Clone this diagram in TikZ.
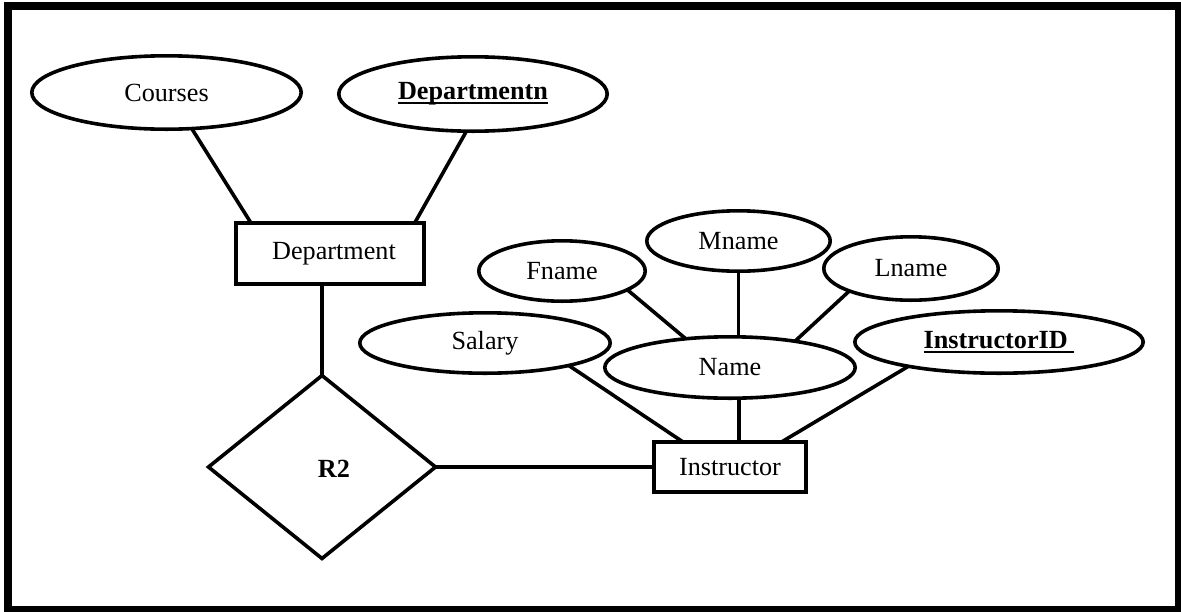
\documentclass[tikz,border=0pt]{standalone}
\usepackage{fontspec}
\setmainfont{Liberation Serif}
\usetikzlibrary{shapes.geometric,calc}

% key attribute: bold text with a heavy underline
\newcommand{\keyattr}[1]{\setbox0\hbox{\bfseries #1}\rlap{\rule[-0.17em]{\wd0}{0.08em}}\box0}

\begin{document}
\begin{tikzpicture}[x=1pt,y=-1pt,
  every node/.style={font=\fontsize{26.2}{30}\selectfont, inner sep=0pt, outer sep=0pt},
  attr/.style={draw, ellipse, line width=3.6pt},
  entity/.style={draw, rectangle, line width=3.6pt},
  rel/.style={draw, diamond, line width=3.6pt, minimum width=227pt, minimum height=183pt},
  link/.style={line width=3.6pt}]

\useasboundingbox (0,0) rectangle (1181,611);
\draw[line width=8pt] (8,6) rectangle (1179,610);

% department side
\node[attr, minimum width=269.4pt, minimum height=73.4pt] (courses) at (166.5,92.5) {Courses};
\node[attr, minimum width=268.4pt, minimum height=74.4pt] (deptn) at (473,94) {\keyattr{Departmentn}};
\node[entity, minimum width=188.4pt, minimum height=61.4pt] (dept) at (330,253.5) {\raisebox{3pt}{\hspace*{8pt}Department}};

% relationship
\node[rel, label={[xshift=12pt, yshift=-2pt, font=\fontsize{26.2}{30}\selectfont\bfseries]center:R2}] (r2) at (322,467) {};

% instructor side
\node[attr, minimum width=166.4pt, minimum height=60.4pt] (fname) at (562,271) {Fname};
\node[attr, minimum width=183.4pt, minimum height=60.4pt] (mname) at (738.5,241) {Mname};
\node[attr, minimum width=174.4pt, minimum height=63.4pt] (lname) at (911,268.5) {Lname};
\node[attr, minimum width=250.4pt, minimum height=60.4pt] (salary) at (485,343) {Salary};
\node[attr, minimum width=250.4pt, minimum height=61.4pt] (name) at (730,367.5) {Name};
\node[attr, minimum width=288.4pt, minimum height=62.4pt] (iid) at (999,342) {\keyattr{InstructorID\ }};
\node[entity, minimum width=152.4pt, minimum height=50.4pt] (inst) at (730,467) {Instructor};

% connectors
\draw[link] (courses.-55) -- ($(dept.north west)!0.08!(dept.north east)$);
\draw[link] (deptn.-100) -- ($(dept.north west)!0.95!(dept.north east)$);
\draw[link] (r2.north) -- (r2.north |- dept.south);
\draw[link] (r2.east) -- (inst.west);

\draw[link] (fname.-16.5) -- (name.147);
\draw[link] (mname.south) -- (mname.south |- name.north);
\draw[link] (lname.-160) -- (name.22.8);
\draw[link] (salary.-15.9) -- ($(inst.north west)!0.19!(inst.north east)$);
\draw[link] ([xshift=9pt]name.south) -- ([xshift=9pt]inst.north);
\draw[link] (iid.-165.8) -- ($(inst.north west)!0.84!(inst.north east)$);
\end{tikzpicture}
\end{document}
